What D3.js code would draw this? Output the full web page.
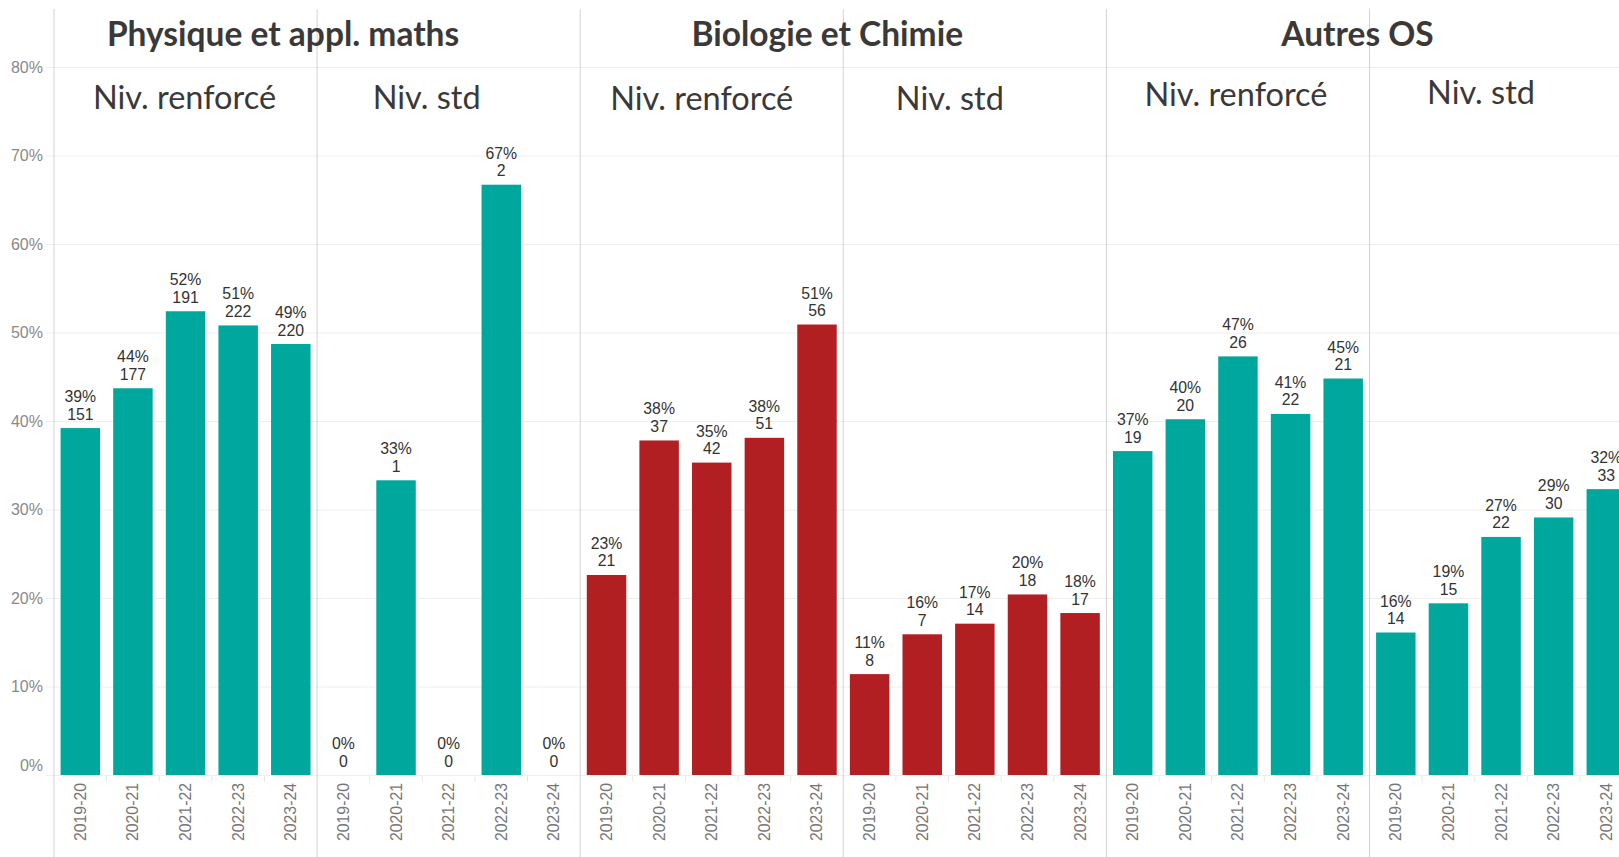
<!DOCTYPE html>
<meta charset="utf-8">
<style>
body { margin: 0; background: #fff; }
.grid line { stroke: #eeeeee; }
.grid text { font: 16px "Liberation Sans", Arial, sans-serif; fill: #898989; }
.xlab { font: 15.8px "Liberation Sans", Arial, sans-serif; fill: #767676; }
.val { font: 15.8px "Liberation Sans", Arial, sans-serif; fill: #333; }
.title { font: bold 33.5px Lato, sans-serif; fill: #3b3838; }
.sub { font: 32.5px Lato, sans-serif; fill: #3b3838; }
.divider { stroke: #d2d2d2; }
</style>
<svg width="1619" height="857"></svg>
<script src="https://cdn.jsdelivr.net/npm/d3@7"></script>
<script>

var years = ["2019-20", "2020-21", "2021-22", "2022-23", "2023-24"];
var subjects = ["Physique et appl. maths", "Biologie et Chimie", "Autres OS"];
var levels = ["Niv. renforcé", "Niv. std"];
var yTicks = [0, 10, 20, 30, 40, 50, 60, 70, 80];

// share (%) and number per panel
var pctPhysRenf = [39.2, 43.7, 52.4, 50.8, 48.7];
var nbPhysRenf  = [151, 177, 191, 222, 220];
var pctPhysStd  = [0, 33.3, 0, 66.7, 0];
var nbPhysStd   = [0, 1, 0, 2, 0];
var pctBioRenf  = [22.6, 37.8, 35.3, 38.1, 50.9];
var nbBioRenf   = [21, 37, 42, 51, 56];
var pctBioStd   = [11.4, 15.9, 17.1, 20.4, 18.3];
var nbBioStd    = [8, 7, 14, 18, 17];
var pctAutRenf  = [36.6, 40.2, 47.3, 40.8, 44.8];
var nbAutRenf   = [19, 20, 26, 22, 21];
var pctAutStd   = [16.1, 19.4, 26.9, 29.1, 32.3];
var nbAutStd    = [14, 15, 22, 30, 33];

var subjectColors = ["#00a79d", "#b21f23", "#00a79d"];

var panels = [
  {subject: 0, level: 0, pct: pctPhysRenf, nb: nbPhysRenf},
  {subject: 0, level: 1, pct: pctPhysStd,  nb: nbPhysStd},
  {subject: 1, level: 0, pct: pctBioRenf,  nb: nbBioRenf},
  {subject: 1, level: 1, pct: pctBioStd,   nb: nbBioStd},
  {subject: 2, level: 0, pct: pctAutRenf,  nb: nbAutRenf},
  {subject: 2, level: 1, pct: pctAutStd,   nb: nbAutStd}
];

var svg = d3.select("svg"),
    width = +svg.attr("width"),
    height = +svg.attr("height");

var left = 54, panelW = 263.1, plotTop = 67, base = 775;

var outer = d3.scaleBand()
    .domain(d3.range(panels.length))
    .range([left, left + panelW * panels.length]);

var inner = d3.scaleBand()
    .domain(years)
    .range([0, panelW])
    .paddingInner(0.25)
    .paddingOuter(0.125);

var y = d3.scaleLinear()
    .domain([0, 80])
    .range([base, plotTop]);

// gridlines + y labels
var grid = svg.append("g")
    .attr("class", "grid")
    .attr("transform", "translate(" + left + ",0)")
    .call(d3.axisLeft(y).tickValues(yTicks).tickFormat(function(d) { return d + "%"; }).tickSize(-(width - left)).tickPadding(11));
grid.select(".domain").remove();
grid.selectAll(".tick line").attr("x1", -8);
grid.selectAll(".tick")
    .filter(function(d) { return d === 0; })
    .select("text").attr("dy", "-0.28em");
grid.selectAll(".tick")
    .filter(function(d) { return d === 0; })
    .select("line").attr("stroke", "#d0d0d0");

// panel dividers
svg.append("g").selectAll("line")
  .data(d3.range(panels.length))
  .enter().append("line")
    .attr("class", "divider")
    .attr("x1", function(d) { return outer(d); })
    .attr("x2", function(d) { return outer(d); })
    .attr("y1", 9)
    .attr("y2", height);

var panel = svg.selectAll(".panel")
  .data(panels)
  .enter().append("g")
    .attr("class", "panel")
    .attr("transform", function(d, i) { return "translate(" + outer(i) + ",0)"; });

// small separators between year columns
panel.selectAll(".sep")
  .data(years.slice(1))
  .enter().append("line")
    .attr("class", "sep")
    .attr("x1", function(d) { return inner(d) - inner.step() * 0.125; })
    .attr("x2", function(d) { return inner(d) - inner.step() * 0.125; })
    .attr("y1", base + 1)
    .attr("y2", base + 7)
    .attr("stroke", "#e8e8e8");

panel.each(function(p) {
  var g = d3.select(this);
  var rows = years.map(function(yr, i) { return {year: yr, pct: p.pct[i], nb: p.nb[i]}; });

  g.selectAll("rect")
    .data(rows)
    .enter().append("rect")
      .attr("x", function(d) { return inner(d.year); })
      .attr("width", inner.bandwidth())
      .attr("y", function(d) { return y(d.pct); })
      .attr("height", function(d) { return base - y(d.pct); })
      .attr("fill", subjectColors[p.subject]);

  g.selectAll(".pct")
    .data(rows)
    .enter().append("text")
      .attr("class", "val pct")
      .attr("text-anchor", "middle")
      .attr("x", function(d) { return inner(d.year) + inner.bandwidth() / 2; })
      .attr("y", function(d) { return y(d.pct) - 26; })
      .text(function(d) { return Math.round(d.pct) + "%"; });

  g.selectAll(".nb")
    .data(rows)
    .enter().append("text")
      .attr("class", "val nb")
      .attr("text-anchor", "middle")
      .attr("x", function(d) { return inner(d.year) + inner.bandwidth() / 2; })
      .attr("y", function(d) { return y(d.pct) - 8.5; })
      .text(function(d) { return d.nb; });

  g.selectAll(".xlab")
    .data(years)
    .enter().append("text")
      .attr("class", "xlab")
      .attr("text-anchor", "end")
      .attr("transform", function(d) {
        return "translate(" + (inner(d) + inner.bandwidth() / 2 + 5.5) + "," + (base + 8) + ") rotate(-90)";
      })
      .text(function(d) { return d; });
});

// headers: these were text boxes laid over the chart, hence the nudges
var subNudge = [[-1, 109], [-22, 109], [-10, 110], [-25, 110], [-2, 106], [-20, 104]];
panel.append("text")
    .attr("class", "sub")
    .attr("text-anchor", "middle")
    .attr("x", function(d, i) { return panelW / 2 + subNudge[i][0]; })
    .attr("y", function(d, i) { return subNudge[i][1]; })
    .text(function(d) { return levels[d.level]; });

var titleNudge = [-34, -16, -12];
svg.append("g").selectAll("text")
  .data(subjects)
  .enter().append("text")
    .attr("class", "title")
    .attr("text-anchor", "middle")
    .attr("x", function(d, i) { return outer(i * 2) + panelW + titleNudge[i]; })
    .attr("y", 45.5)
    .text(function(d) { return d; });

</script>
